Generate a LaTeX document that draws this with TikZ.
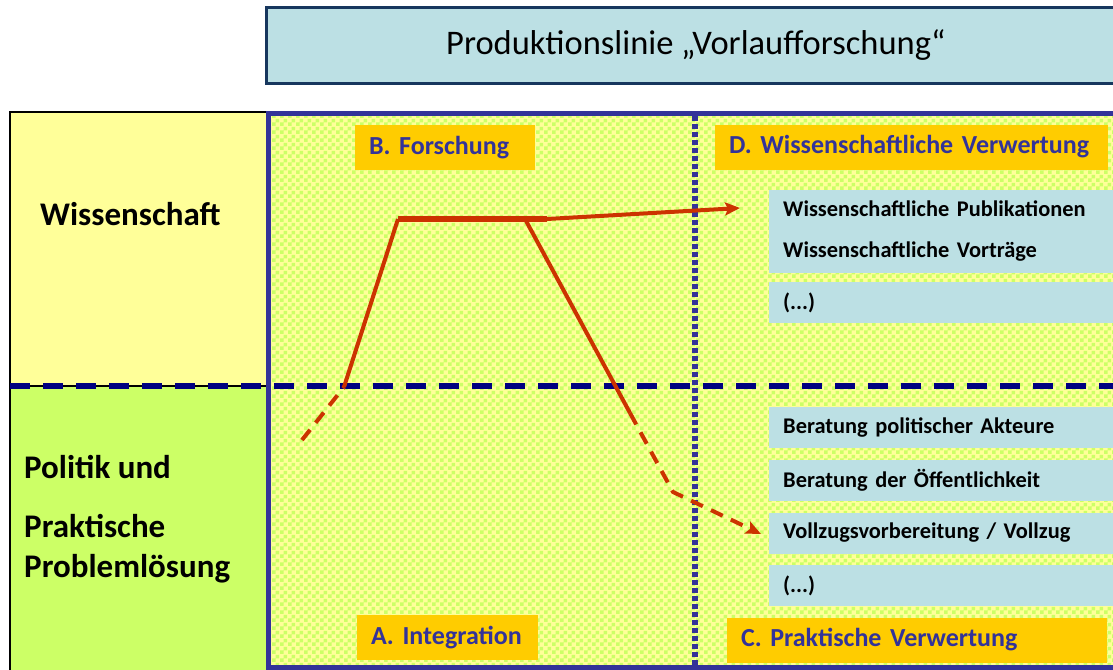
\documentclass[tikz,border=0pt]{standalone}
\usepackage{fontspec}
\setmainfont{Carlito}
\usetikzlibrary{patterns,arrows.meta}
\definecolor{boxblue}{RGB}{188,224,228}
\definecolor{titleline}{RGB}{23,55,94}
\definecolor{paleyellow}{RGB}{255,255,153}
\definecolor{palegreen}{RGB}{204,255,102}
\definecolor{framecol}{RGB}{51,51,153}
\definecolor{navyline}{RGB}{0,0,128}
\definecolor{labelorange}{RGB}{255,204,0}
\definecolor{pathred}{RGB}{204,51,0}
\pgfdeclarepatternformonly{checks}{\pgfpointorigin}{\pgfqpoint{8pt}{8pt}}{\pgfqpoint{8pt}{8pt}}{%
  \pgfpathrectangle{\pgfpointorigin}{\pgfqpoint{4.05pt}{4.05pt}}%
  \pgfpathrectangle{\pgfqpoint{4pt}{4pt}}{\pgfqpoint{4.05pt}{4.05pt}}%
  \pgfusepath{fill}}

\begin{document}
\begin{tikzpicture}[x=1pt,y=-1pt,
   panel/.style={draw=black, line width=2.5pt, inner sep=0pt},
   sidetext/.style={anchor=base west, inner sep=0pt, font=\bfseries\fontsize{33}{38}\selectfont},
   lab/.style={fill=labelorange, text=framecol, inner xsep=14pt, inner ysep=0pt, minimum height=45,
      text width=#1, align=left, font=\bfseries\fontsize{26}{30}\selectfont},
   item/.style={fill=boxblue, anchor=west, inner xsep=14pt, inner ysep=0pt, minimum height=41,
      text width=330, align=left, font=\bfseries\fontsize{22.4}{41}\selectfont},
   redline/.style={draw=pathred, line width=4pt},
   reddash/.style={redline, dash pattern=on 13pt off 9pt},
   tip/.style={-{Stealth[length=15pt,width=13pt,inset=3pt]}}]
   \useasboundingbox (0,0) rectangle (1113,669);

   \node[draw=titleline, line width=3pt, fill=boxblue, minimum width=860, minimum height=75,
      font=\fontsize{34.5}{40}\selectfont] (title) at (696,45.5) {Produktionslinie „Vorlaufforschung“};

   \node[panel, fill=paleyellow, minimum width=258, minimum height=274] (wiss_panel) at (139,249) {};
   \node[panel, fill=palegreen, minimum width=258, minimum height=290] (pol_panel) at (139,531) {};
   \node[sidetext] (wiss) at (40,225) {Wissenschaft};
   \node[sidetext] (pol) at (24,478) {Politik und};
   \node[sidetext] (prak) at (24,537) {Praktische};
   \node[sidetext] (prob) at (24,577) {Problemlösung};

   \node[draw=framecol, line width=5pt, preaction={fill=paleyellow}, pattern=checks, pattern color=palegreen,
      minimum width=862, minimum height=554, inner sep=0pt] (area) at (699,390) {};

   \coordinate (mid_l) at (10,386);
   \coordinate (mid_r) at (1113,386);
   \coordinate (col_t) at (695,116);
   \coordinate (col_b) at (695,665);
   \draw[navyline, line width=6pt, dash pattern=on 20pt off 13pt] (mid_l) -- (mid_r);
   \draw[framecol, line width=5.5pt, dash pattern=on 5pt off 3pt] (col_t) -- (col_b);

   \node[lab=152] (forschung) at (445,147.5) {B. Forschung};
   \node[lab=365] (wiss_verw) at (911.5,147) {D. Wissenschaftliche Verwertung};
   \node[lab=153] (integration) at (447.5,637.5) {A. Integration};
   \node[lab=352] (prak_verw) at (917,640) {C. Praktische Verwertung};

   \node[item, minimum height=83] (publ) at (769,231) {Wissenschaftliche Publikationen\\Wissenschaftliche Vorträge};
   \node[item] (etc_d) at (769,302.5) {(...)};
   \node[item] (akteure) at (769,427.5) {Beratung politischer Akteure};
   \node[item] (oeff) at (769,480.5) {Beratung der Öffentlichkeit};
   \node[item] (vollzug) at (769,533) {Vollzugsvorbereitung / Vollzug};
   \node[item] (etc_c) at (769,585.5) {(...)};

   \coordinate (r0) at (302,440);
   \coordinate (r1) at (344,387);
   \coordinate (r2) at (398,219);
   \coordinate (r3) at (547,219);
   \coordinate (r4) at (525,219);
   \coordinate (r5) at (630,413);
   \coordinate (r6) at (673,492);
   \coordinate (tip_d) at (740,208);
   \coordinate (tip_c) at (761,534);
   \draw[reddash] (r0) -- (r1);
   \draw[redline] (r1) -- (r2);
   \draw[redline, line width=6.5pt] (r2) -- (r3);
   \draw[redline, tip] (r3) -- (tip_d);
   \draw[redline] (r4) -- (r5);
   \draw[reddash, tip] (r5) -- (r6) -- (tip_c);
\end{tikzpicture}
\end{document}
